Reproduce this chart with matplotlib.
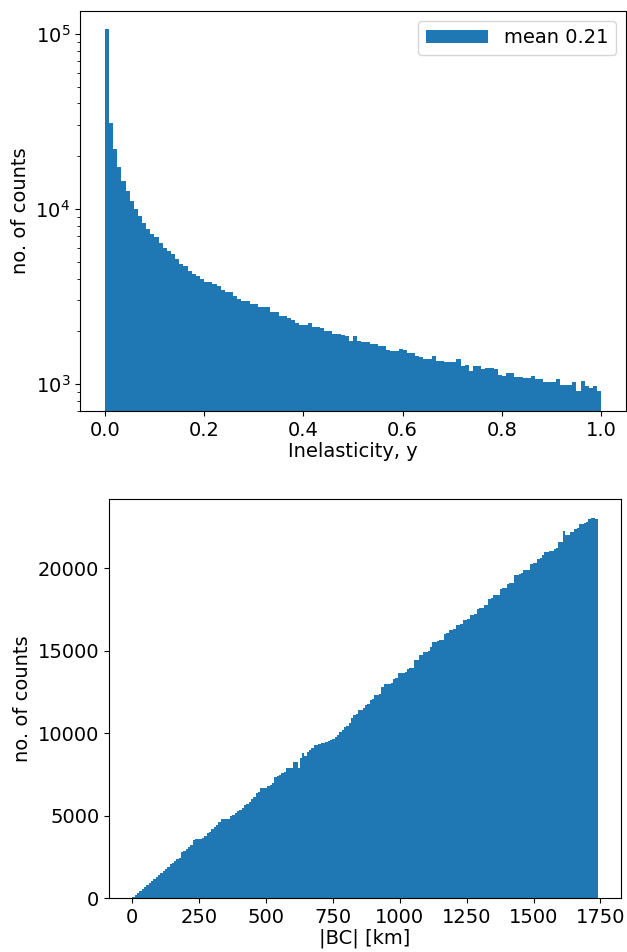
import numpy as np
import matplotlib
matplotlib.use("Agg")
import matplotlib.pyplot as plt

plt.rcParams['font.size'] = 14

# inelasticity histogram, 120 bins on [0, 1]
y_edges = np.linspace(0.0, 1.0, 121)
y_counts = [107000, 31000, 21900, 17300, 14400, 12600, 11100, 9970, 9060, 8290,
            7660, 7180, 6880, 6370, 5940, 5760, 5510, 5160, 4830, 4690,
            4430, 4240, 4140, 4000, 3810, 3810, 3700, 3620, 3430, 3340,
            3340, 3170, 3050, 2990, 2990, 2860, 2860, 2750, 2750, 2750,
            2570, 2570, 2440, 2440, 2370, 2310, 2240, 2170, 2170, 2220,
            2100, 2100, 2080, 2010, 2010, 1920, 1920, 1900, 1880, 1760,
            1870, 1760, 1730, 1730, 1690, 1690, 1650, 1650, 1560, 1550,
            1550, 1580, 1570, 1500, 1500, 1450, 1420, 1385, 1385, 1440,
            1355, 1355, 1330, 1330, 1330, 1385, 1260, 1280, 1190, 1260,
            1260, 1215, 1240, 1240, 1210, 1120, 1110, 1150, 1150, 1090,
            1090, 1075, 1075, 1110, 1065, 1065, 1030, 1030, 1030, 1065,
            985, 985, 985, 1030, 910, 1035, 975, 945, 975, 915]
y_label = 'mean 0.21'

# |BC| histogram, 200 bins on [0, 1740] km
bc_edges = np.linspace(0.0, 1740.0, 201)
bc_counts = [70, 200, 330, 420, 560, 680, 800, 900, 1030, 1130,
             1250, 1370, 1490, 1620, 1760, 1900, 2060, 2150, 2270, 2360,
             2450, 2780, 2850, 2960, 3110, 3200, 3510, 3580, 3560, 3600,
             3610, 3780, 3960, 4020, 4180, 4320, 4450, 4600, 4770, 4780,
             4800, 4790, 4950, 5050, 5130, 5250, 5330, 5430, 5620, 5700,
             5840, 5990, 6120, 6340, 6400, 6650, 6650, 6680, 6780, 6850,
             7000, 7350, 7380, 7450, 7560, 7650, 7860, 7880, 7900, 8260,
             8260, 7900, 8470, 8770, 8600, 8850, 8970, 9100, 9270, 9300,
             9350, 9380, 9420, 9480, 9510, 9560, 9650, 9770, 9900, 10050,
             10180, 10380, 10450, 10590, 10900, 11090, 11190, 11390, 11420, 11500,
             11700, 11750, 12000, 12050, 12300, 12320, 12400, 12800, 12970, 12970,
             13000, 13050, 13310, 13330, 13620, 13640, 13650, 13700, 13920, 13950,
             13980, 14420, 14450, 14730, 14750, 14930, 14950, 14980, 15230, 15530,
             15540, 15560, 15630, 15650, 16040, 16060, 16240, 16250, 16300, 16540,
             16560, 16600, 16850, 16870, 16900, 17150, 17170, 17200, 17560, 17580,
             17600, 17760, 17780, 18160, 18180, 18360, 18380, 18400, 18770, 18790,
             18800, 19070, 19090, 19100, 19570, 19590, 19680, 19700, 19880, 19900,
             19920, 20280, 20300, 20320, 20590, 20610, 20790, 20990, 21000, 21020,
             21050, 21190, 21210, 21590, 21610, 22260, 22000, 22000, 22200, 22220,
             22400, 22420, 22700, 22710, 22720, 22800, 23010, 23050, 23020, 23000]

fig = plt.figure(figsize=(6.27, 9.52), dpi=100)

# gorny wykres - log
ax1 = fig.add_axes([80 / 627, 1 - 411 / 952, 546 / 627, 400 / 952])
ax1.hist(y_edges[:-1], bins=y_edges, weights=y_counts, log=True, label=y_label)
ax1.set_ylim(700, 1.35e5)
ax1.set_xlabel('Inelasticity, y', labelpad=2)
ax1.set_ylabel('no. of counts')
ax1.legend(loc='upper right', handlelength=3.2)

# dolny wykres
ax2 = fig.add_axes([109 / 627, 1 - 898 / 952, 512 / 627, 399 / 952])
ax2.hist(bc_edges[:-1], bins=bc_edges, weights=bc_counts)
ax2.set_xticks([0, 250, 500, 750, 1000, 1250, 1500, 1750])
ax2.set_xlabel('|BC| [km]', labelpad=1)
ax2.set_ylabel('no. of counts')

fig.savefig('out.png', dpi=100)
